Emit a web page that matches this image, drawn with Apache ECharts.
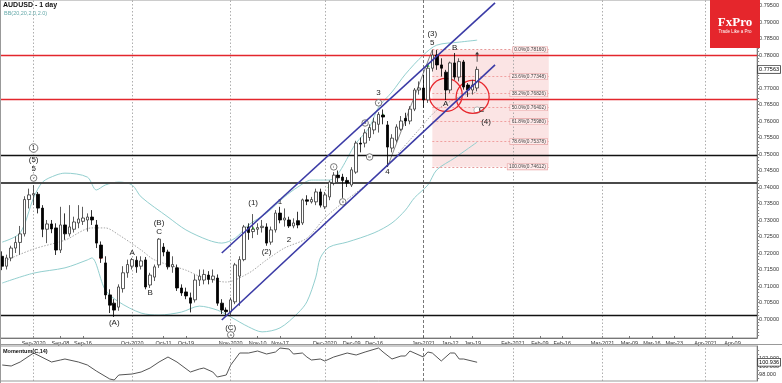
<!DOCTYPE html>
<html><head><meta charset="utf-8">
<script src="https://cdn.jsdelivr.net/npm/echarts@6/dist/echarts.min.js"></script>
<style>html,body{margin:0;padding:0;background:#fff}#c{width:782px;height:383px}</style>
</head><body><div id="c"></div>
<script>
// ---------- categories (trading days) ----------
const startDate = '2020-08-21', endDate = '2021-04-16';
const holidays = ['2020-12-25', '2021-01-01'];
function tradingDays(a, b) {
  const out = []; const d = new Date(a + 'T00:00:00Z'); const e = new Date(b + 'T00:00:00Z');
  while (d <= e) { const s = d.toISOString().slice(0, 10); const w = d.getUTCDay();
    if (w !== 0 && w !== 6 && holidays.indexOf(s) < 0) out.push(s); d.setUTCDate(d.getUTCDate() + 1); }
  return out;
}
const categories = tradingDays(startDate, endDate);

// ---------- x tick labels ----------
const xTickDates = ['2020-09-01','2020-09-09','2020-09-16','2020-10-01','2020-10-12','2020-10-19','2020-11-02','2020-11-10','2020-11-17','2020-12-01','2020-12-09','2020-12-16','2021-01-04','2021-01-12','2021-01-19','2021-02-01','2021-02-09','2021-02-16','2021-03-01','2021-03-09','2021-03-16','2021-03-23','2021-04-01','2021-04-09'];
const xTickLabels = ['Sep-2020','Sep-08','Sep-16','Oct-2020','Oct-11','Oct-19','Nov-2020','Nov-10','Nov-17','Dec-2020','Dec-09','Dec-16','Jan-2021','Jan-12','Jan-19','Feb-2021','Feb-09','Feb-16','Mar-2021','Mar-09','Mar-16','Mar-23','Apr-2021','Apr-09'];
const monthStarts = ['2020-09-01','2020-10-01','2020-11-02','2020-12-01','2021-02-01','2021-03-01','2021-04-01'];
const yearStarts = ['2021-01-04'];
const priceTickLabels = [0.700,0.705,0.710,0.715,0.720,0.725,0.730,0.735,0.740,0.745,0.750,0.755,0.760,0.765,0.770,0.775,0.780,0.785,0.790,0.795];
const momTickLabels = [98, 100, 102];

// ---------- candles [open, high, low, close] from 2020-08-21 ----------
const candles = [
[.7190,.7205,.7148,.7160],[.7160,.7195,.7150,.7185],[.7185,.7222,.7175,.7215],[.7215,.7250,.7200,.7232],
[.7232,.7282,.7195,.7258],[.7258,.7372,.7250,.7362],[.7362,.7395,.7335,.7376],[.7376,.7406,.7345,.7380],
[.7378,.7385,.7320,.7336],[.7336,.7345,.7248,.7272],[.7272,.7300,.7230,.7288],[.7288,.7300,.7260,.7273],
[.7276,.7290,.7194,.7209],[.7209,.7340,.7200,.7285],[.7285,.7320,.7240,.7258],[.7258,.7345,.7250,.7279],
[.7272,.7310,.7262,.7294],[.7291,.7345,.7275,.7303],[.7296,.7340,.7285,.7306],[.7300,.7320,.7265,.7309],
[.7309,.7330,.7285,.7300],[.7285,.7300,.7215,.7230],[.7224,.7235,.7170,.7185],[.7170,.7190,.7060,.7073],
[.7073,.7090,.7018,.7042],[.7048,.7060,.7006,.7027],[.7036,.7105,.7025,.7097],[.7092,.7160,.7080,.7140],
[.7140,.7180,.7125,.7165],[.7160,.7185,.7150,.7180],[.7178,.7190,.7140,.7158],[.7160,.7190,.7150,.7176],
[.7179,.7188,.7090,.7097],[.7103,.7140,.7094,.7133],[.7127,.7165,.7115,.7158],[.7164,.7245,.7155,.7242],
[.7218,.7230,.7190,.7203],[.7203,.7210,.7150,.7158],[.7158,.7190,.7140,.7165],[.7155,.7165,.7085,.7094],
[.7094,.7105,.7070,.7079],[.7082,.7095,.7060,.7070],[.7064,.7080,.7020,.7048],[.7058,.7135,.7050,.7118],
[.7118,.7150,.7100,.7130],[.7118,.7150,.7105,.7135],[.7133,.7145,.7105,.7120],[.7120,.7150,.7110,.7130],
[.7124,.7135,.7040,.7048],[.7048,.7060,.7015,.7027],[.7027,.7035,.7006,.7022],[.7021,.7065,.7010,.7058],
[.7052,.7170,.7045,.7164],[.7130,.7190,.7040,.7180],[.7180,.7285,.7175,.7279],[.7279,.7290,.7240,.7262],
[.7265,.7318,.7245,.7272],[.7272,.7290,.7255,.7277],[.7277,.7300,.7262,.7281],[.7279,.7290,.7222,.7230],
[.7233,.7280,.7225,.7270],[.7270,.7330,.7262,.7321],[.7321,.7340,.7290,.7300],[.7300,.7335,.7280,.7306],
[.7300,.7310,.7276,.7282],[.7282,.7305,.7275,.7291],[.7298,.7325,.7275,.7285],[.7291,.7365,.7285,.7361],
[.7361,.7375,.7345,.7357],[.7355,.7370,.7350,.7362],[.7355,.7395,.7345,.7385],[.7385,.7395,.7338,.7345],
[.7340,.7385,.7333,.7376],[.7370,.7420,.7360,.7415],[.7412,.7445,.7405,.7436],[.7436,.7450,.7415,.7428],
[.7430,.7440,.7367,.7420],[.7420,.7430,.7400,.7412],[.7406,.7460,.7400,.7452],[.7445,.7540,.7440,.7533],
[.7533,.7550,.7505,.7530],[.7533,.7575,.7520,.7564],[.7550,.7590,.7540,.7580],[.7573,.7610,.7560,.7597],
[.7590,.7627,.7565,.7620],[.7618,.7635,.7590,.7612],[.7588,.7600,.74612,.7521],[.7518,.7560,.7505,.7548],
[.7542,.7590,.7535,.7582],[.7575,.7615,.7570,.7600],[.7608,.7625,.7585,.7600],[.7600,.7645,.7590,.7636],
[.7636,.7700,.7630,.7694],[.7694,.7720,.7680,.7700],[.7700,.7740,.7640,.7664],[.7664,.7770,.7655,.7760],
[.7760,.7816,.7750,.7800],[.7800,.7815,.7755,.7770],[.7770,.7790,.7735,.7760],[.7748,.7755,.7664,.7694],
[.7694,.7780,.7685,.7776],[.7776,.7806,.7725,.7733],[.7733,.7790,.7720,.7780],[.7779,.7785,.7695,.7703],
[.7709,.7715,.7673,.7694],[.7694,.7725,.7680,.7709],[.7700,.7765,.7690,.77563]
];
const lastClose = 0.77563;

// ---------- Bollinger bands ----------
const bbUpper = [['2020-08-21',.7233],['2020-08-27',.7261],['2020-09-01',.7367],['2020-09-03',.7415],['2020-09-08',.7436],['2020-09-10',.7442],['2020-09-17',.7430],['2020-09-21',.7391],['2020-09-23',.7406],['2020-09-28',.7415],['2020-10-01',.7406],['2020-10-05',.7370],['2020-10-13',.7309],['2020-10-19',.7270],['2020-10-26',.7239],['2020-10-29',.7230],['2020-11-03',.7245],['2020-11-06',.7285],['2020-11-12',.7321],['2020-11-18',.7370],['2020-11-23',.7400],['2020-11-26',.7421],['2020-12-02',.7421],['2020-12-10',.7533],['2020-12-15',.7582],['2020-12-17',.7642],['2020-12-22',.7688],['2020-12-28',.7742],['2021-01-04',.7800],['2021-01-07',.7830],['2021-01-14',.7839],['2021-01-20',.7845]];
const bbMiddle = [['2020-08-21',.7173],['2020-09-01',.7212],['2020-09-10',.7239],['2020-09-18',.7276],['2020-09-23',.7276],['2020-09-28',.7255],['2020-10-05',.7209],['2020-10-08',.7179],['2020-10-19',.7148],['2020-10-22',.7130],['2020-10-30',.7112],['2020-11-06',.7139],['2020-11-12',.7179],['2020-11-18',.7215],['2020-11-25',.7245],['2020-12-01',.7306],['2020-12-07',.7352],['2020-12-15',.7415],['2020-12-22',.7482],['2020-12-30',.7558],['2021-01-07',.7633],['2021-01-14',.7673],['2021-01-20',.7688]];
const bbLower = [['2020-08-21',.7109],['2020-09-01',.7139],['2020-09-10',.7155],['2020-09-17',.7179],['2020-09-18',.7185],['2020-09-23',.7088],['2020-09-28',.7052],['2020-10-05',.7018],['2020-10-09',.7012],['2020-10-16',.7021],['2020-10-22',.7039],['2020-10-28',.7027],['2020-11-02',.7006],['2020-11-06',.6976],['2020-11-11',.6961],['2020-11-17',.6973],['2020-11-23',.7018],['2020-11-25',.7052],['2020-11-27',.7127],['2020-11-30',.7185],['2020-12-02',.7218],['2020-12-08',.7233],['2020-12-16',.7261],['2020-12-22',.7291],['2020-12-28',.7330],['2020-12-30',.7367],['2021-01-05',.7406],['2021-01-07',.7452],['2021-01-13',.7488],['2021-01-20',.7536]];

// ---------- Momentum(C,14) ----------
const momentum = [['2020-08-21',100.25],['2020-08-25',100],['2020-08-27',101],['2020-09-01',103.25],['2020-09-07',101],['2020-09-09',101.5],['2020-09-10',101.75],['2020-09-15',101],['2020-09-17',100.25],['2020-09-21',98.75],['2020-09-24',96.75],['2020-09-25',96.5],['2020-09-28',97.75],['2020-10-01',98],['2020-10-05',98.5],['2020-10-07',99.5],['2020-10-09',101],['2020-10-13',102.25],['2020-10-15',101],['2020-10-20',98.5],['2020-10-22',99.25],['2020-10-23',99.5],['2020-10-27',98.5],['2020-10-28',97.25],['2020-10-30',97.75],['2020-11-02',100.25],['2020-11-04',103.25],['2020-11-06',103.25],['2020-11-10',103.75],['2020-11-12',103],['2020-11-16',103.5],['2020-11-17',104.5],['2020-11-19',104.25],['2020-11-20',103],['2020-11-24',103.25],['2020-11-25',102.25],['2020-11-26',101.5],['2020-11-30',101.75],['2020-12-01',101.25],['2020-12-03',102.25],['2020-12-08',103.25],['2020-12-10',102.75],['2020-12-14',103.5],['2020-12-17',104.5],['2020-12-18',103.5],['2020-12-22',101.75],['2020-12-24',102.5],['2020-12-28',102.5],['2020-12-29',103.75],['2021-01-04',102.25],['2021-01-05',103.5],['2021-01-06',103.25],['2021-01-08',101.25],['2021-01-12',103.25],['2021-01-13',103.25],['2021-01-14',101.75],['2021-01-15',101.75],['2021-01-20',100.936]];
const momLast = 100.936;

// ---------- drawn analysis ----------
const redLevels = [0.7800, 0.7665];
const blackLevels = [0.7495, 0.7412, 0.7012];
const channelUpper = [['2020-10-29', 0.7200], ['2021-01-26', 0.7958]];
const channelLower = [['2020-10-29', 0.6997], ['2021-01-26', 0.7770]];
const waveLine = [['2020-12-21', 0.74612], ['2021-01-06', 0.7816]];
const fibStart = '2021-01-06', fibEnd = '2021-02-11';
const fibNames = ['0.0%','23.6%','38.2%','50.0%','61.8%','78.6%','100.0%'];
const fibValues = [0.78160, 0.77348, 0.76826, 0.76402, 0.75980, 0.75378, 0.74612];
const waveLabels = [['2020-09-01',.7482,'(5)'],['2020-09-01',.7455,'5'],['2020-09-25',.6988,'(A)'],['2020-10-01',.7200,'A'],['2020-10-07',.7079,'B'],['2020-10-09',.7291,'(B)'],['2020-10-09',.7264,'C'],['2020-11-02',.6973,'(C)'],['2020-11-09',.7352,'(1)'],['2020-11-12',.7203,'(2)'],['2020-11-17',.7355,'1'],['2020-11-19',.7239,'2'],['2020-12-17',.7685,'3'],['2020-12-21',.7446,'4'],['2021-01-06',.7864,'(3)'],['2021-01-06',.7836,'5'],['2021-01-11',.7652,'A'],['2021-01-13',.7821,'B'],['2021-01-21',.7633,'C'],['2021-01-22',.7597,'(4)']];
const circledLabels = [['2020-09-01',.7518,'1'],['2020-09-01',.7427,'v'],['2020-11-02',.6952,'a'],['2020-12-03',.7461,'i'],['2020-12-07',.7355,'ii'],['2020-12-14',.7594,'iii'],['2020-12-15',.7491,'iv'],['2020-12-17',.7655,'v'],['2021-01-20',.7633,'']];
const redCircles = [['2021-01-11', .7679], ['2021-01-19', .7673]];
const greenMarks = [['2020-08-27',.7248],['2020-11-05',.7255],['2020-11-09',.7276],['2020-12-02',.7403],['2020-12-10',.7491],['2020-12-18',.7618],['2021-01-05',.7770]];
const redMarks = [['2020-09-22',.7188]];
const arrowMark = [['2021-01-20', .7795]];

// ---------- build ----------
const FONT = '"Liberation Sans", Arial, sans-serif';
const xLabelMap = {}; xTickDates.forEach((d, i) => { xLabelMap[d] = xTickLabels[i]; });
const minorTicks = []; for (let k = 695; k <= 796; k++) minorTicks.push(k / 1000);
const candleData = candles.map(r => [r[0], r[3], r[2], r[1]]);
const NOLINE = 'rgba(0,0,0,0)';
const boxLabel = (txt) => ({ show: true, position: 'end', distance: 1, formatter: txt, fontSize: 5.5, fontFamily: FONT, color: '#000',
  backgroundColor: '#fff', borderColor: '#333', borderWidth: 0.8, padding: [1, 1, 0, 1] });

const vLines = [].concat(
  monthStarts.map(d => ({ xAxis: d, lineStyle: { color: '#999', type: [1.5, 2], width: 0.8 }, label: { show: false } })),
  yearStarts.map(d => ({ xAxis: d, lineStyle: { color: '#555', type: [3, 2], width: 0.8 }, label: { show: false } }))
);
const hLines = [].concat(
  redLevels.map(v => ({ yAxis: v, lineStyle: { color: '#e3262c', width: 1.3, type: 'solid' }, label: { show: false } })),
  blackLevels.map((v, i) => ({ yAxis: v, lineStyle: { color: i === 1 ? '#4a4a4a' : '#111', width: i === 1 ? 1.8 : 1.3, type: 'solid' }, label: { show: false } })),
  [{ yAxis: lastClose, lineStyle: { color: NOLINE, width: 0.1 }, label: boxLabel('0.77563') }]
);
const fibLines = fibValues.map((v, i) => [
  { coord: [fibStart, v], lineStyle: { color: i === 0 || i === 6 ? '#e08080' : '#ee8f8f', type: [2, 2], width: 0.8 }, label: { show: false } },
  { coord: [fibEnd, v] }
]);

const mp = [];
waveLabels.forEach(w => mp.push({ coord: [w[0], w[1]], symbol: 'circle', symbolSize: 1, itemStyle: { color: 'rgba(0,0,0,0)' },
  label: { show: true, position: 'inside', formatter: w[2], fontSize: 8, fontFamily: FONT, color: '#222' } }));
circledLabels.forEach((w, i) => mp.push({ coord: [w[0], w[1]], symbol: 'circle', symbolSize: i === 0 ? 8.5 : 6.5,
  itemStyle: { color: '#fff', borderColor: w[2] === '' ? '#999' : '#444', borderWidth: 0.7 },
  label: { show: true, position: 'inside', formatter: w[2], fontSize: i === 0 ? 6.5 : 3.6, fontFamily: FONT, color: '#222' } }));
redCircles.forEach(c => mp.push({ coord: c, symbol: 'circle', symbolSize: 33, itemStyle: { color: 'rgba(0,0,0,0)', borderColor: '#e8282e', borderWidth: 1.3 }, label: { show: false } }));
greenMarks.forEach(c => mp.push({ coord: c, symbol: 'triangle', symbolSize: 3.5, itemStyle: { color: '#33bb33' }, label: { show: false } }));
redMarks.forEach(c => mp.push({ coord: c, symbol: 'triangle', symbolSize: 3.5, itemStyle: { color: '#cc2222' }, label: { show: false } }));
arrowMark.forEach(c => mp.push({ coord: c, symbol: 'path://M5,0 L10,6 L6,6 L6,22 L4,22 L4,6 L0,6 Z', symbolSize: [4, 10], itemStyle: { color: '#333' }, label: { show: false } }));
fibValues.forEach((v, i) => mp.push({ coord: [fibEnd, v], symbol: 'circle', symbolSize: 1, itemStyle: { color: 'rgba(0,0,0,0)' },
  label: { show: true, position: 'left', distance: 1, formatter: fibNames[i] + '(' + v.toFixed(5) + ')', fontSize: 4.8, fontFamily: FONT, color: '#444',
    backgroundColor: 'rgba(255,236,236,0.95)', borderColor: '#e6a2a2', borderWidth: 0.6, padding: [0.5, 1.5, 0, 1.5] } }));

const option = {
  animation: false,
  backgroundColor: '#fff',
  grid: [
    { left: -2, right: 21, top: 0, height: 338, show: true, borderColor: '#999', borderWidth: 1 },
    { left: -2, right: 21, top: 346, height: 35, show: true, borderColor: '#999', borderWidth: 1 }
  ],
  xAxis: [
    { type: 'category', gridIndex: 0, data: categories, boundaryGap: true,
      axisLine: { show: true, lineStyle: { color: '#777', width: 1 } },
      axisTick: { show: true, alignWithLabel: true, inside: true, length: 2, interval: (i, v) => v in xLabelMap, lineStyle: { color: '#777' } },
      axisLabel: { interval: (i, v) => v in xLabelMap, formatter: v => xLabelMap[v] || '', fontSize: 5.5, fontFamily: FONT, color: '#333', margin: 2, hideOverlap: false },
      splitLine: { show: false } },
    { type: 'category', gridIndex: 1, data: categories, boundaryGap: true,
      axisLine: { show: false }, axisTick: { show: false }, axisLabel: { show: false }, splitLine: { show: false } }
  ],
  yAxis: [
    { type: 'value', gridIndex: 0, position: 'right', min: 0.69424, max: 0.79667,
      axisLine: { show: true, lineStyle: { color: '#777' } },
      axisTick: { show: true, customValues: minorTicks, length: 2, lineStyle: { color: '#888' } },
      axisLabel: { customValues: priceTickLabels, formatter: v => v.toFixed(5), fontSize: 5.5, fontFamily: FONT, color: '#333', margin: 2 },
      splitLine: { show: false } },
    { type: 'value', gridIndex: 1, position: 'right', min: 96.25, max: 105,
      axisLine: { show: true, lineStyle: { color: '#777' } },
      axisTick: { show: true, customValues: [97, 98, 99, 100, 101, 102, 103, 104], length: 2, lineStyle: { color: '#888' } },
      axisLabel: { customValues: momTickLabels, formatter: v => v.toFixed(3), fontSize: 5.5, fontFamily: FONT, color: '#333', margin: 2 },
      splitLine: { show: false } }
  ],
  series: [
    { type: 'line', name: 'bbU', xAxisIndex: 0, yAxisIndex: 0, data: bbUpper, showSymbol: false, symbol: 'none', smooth: 0.3,
      lineStyle: { color: '#93cfcf', width: 1 }, z: 2, silent: true },
    { type: 'line', name: 'bbL', xAxisIndex: 0, yAxisIndex: 0, data: bbLower, showSymbol: false, symbol: 'none', smooth: 0.3,
      lineStyle: { color: '#93cfcf', width: 1 }, z: 2, silent: true },
    { type: 'line', name: 'bbM', xAxisIndex: 0, yAxisIndex: 0, data: bbMiddle, showSymbol: false, symbol: 'none', smooth: 0.3,
      lineStyle: { color: '#a8a8a8', width: 1, type: [1.5, 1.5] }, z: 2, silent: true },
    { type: 'candlestick', name: 'AUDUSD', xAxisIndex: 0, yAxisIndex: 0, data: candleData, barWidth: 3, z: 5,
      itemStyle: { color: '#ffffff', color0: '#000000', borderColor: '#333', borderColor0: '#000', borderWidth: 0.8 },
      markLine: { silent: true, precision: 6, symbol: ['none', 'none'], animation: false, data: vLines.concat(hLines).concat(fibLines) },
      markArea: { silent: true, precision: 6, data: [[{ coord: [fibStart, fibValues[0]] }, { coord: [fibEnd, fibValues[6]] }]], itemStyle: { color: 'rgba(236,120,120,0.2)' } },
      markPoint: { silent: true, precision: 6, animation: false, data: mp }
    },
    { type: 'line', name: 'chU', xAxisIndex: 0, yAxisIndex: 0, data: channelUpper, showSymbol: false, symbol: 'none', lineStyle: { color: '#3b3ba6', width: 1.6 }, z: 6, silent: true },
    { type: 'line', name: 'chL', xAxisIndex: 0, yAxisIndex: 0, data: channelLower, showSymbol: false, symbol: 'none', lineStyle: { color: '#3b3ba6', width: 1.6 }, z: 6, silent: true },
    { type: 'line', name: 'wave', xAxisIndex: 0, yAxisIndex: 0, data: waveLine, showSymbol: false, symbol: 'none', lineStyle: { color: '#555', width: 0.7 }, z: 4, silent: true },
    { type: 'line', name: 'Momentum', xAxisIndex: 1, yAxisIndex: 1, data: momentum, showSymbol: false, symbol: 'none', lineStyle: { color: '#555', width: 1 }, z: 3, silent: true,
      markLine: { silent: true, precision: 6, symbol: ['none', 'none'], data: vLines.concat([
        { yAxis: momLast, lineStyle: { color: NOLINE, width: 0.1 }, label: boxLabel('100.936') }
      ]) } }
  ],
  graphic: [
    { type: 'line', shape: { x1: 0.5, y1: 0, x2: 0.5, y2: 383 }, style: { stroke: '#999', lineWidth: 1 }, z: 100 },
    { type: 'line', shape: { x1: 0, y1: 344.5, x2: 782, y2: 344.5 }, style: { stroke: '#999', lineWidth: 1 }, z: 100 },
    { type: 'text', x: 3, y: 2, style: { text: 'AUDUSD - 1 day', font: 'bold 7px "Liberation Sans", Arial', fill: '#111' }, z: 100 },
    { type: 'text', x: 4, y: 10.5, style: { text: 'BB(20,20,2.0,2.0)', font: '5.5px "Liberation Sans", Arial', fill: '#66aaaa' }, z: 100 },
    { type: 'text', x: 3, y: 348, style: { text: 'Momentum(C,14)', font: 'bold 5.5px "Liberation Sans", Arial', fill: '#111' }, z: 100 },
    { type: 'rect', shape: { x: 710, y: 0, width: 50, height: 48 }, style: { fill: '#e5262c' }, z: 100 },
    { type: 'text', x: 735, y: 22.5, style: { text: 'FxPro', font: 'bold 13px "Liberation Serif", serif', fill: '#fff', align: 'center', verticalAlign: 'middle' }, z: 101 },
    { type: 'text', x: 735, y: 31.5, style: { text: 'Trade Like a Pro', font: '4.5px "Liberation Sans", Arial', fill: '#fff', align: 'center', verticalAlign: 'middle' }, z: 101 }
  ]
};
const chart = echarts.init(document.getElementById('c'), null, { renderer: 'canvas' });
chart.setOption(option);
</script></body></html>
